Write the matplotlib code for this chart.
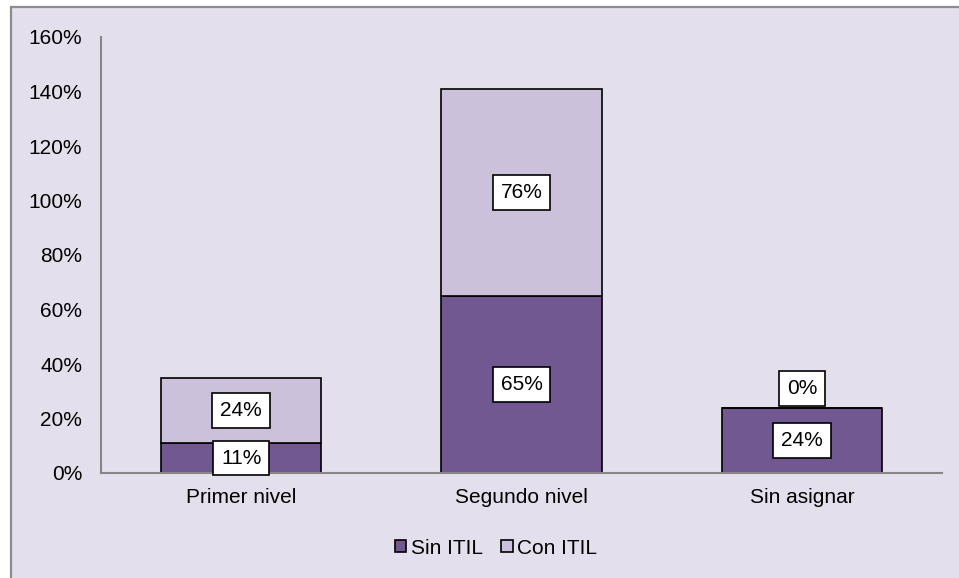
import matplotlib.pyplot as plt
import matplotlib.patches as mpatches
import numpy as np

categories = ['Primer nivel', 'Segundo nivel', 'Sin asignar']
sin_itil = [11, 65, 24]
con_itil = [24, 76, 0]
series_names = ['Sin ITIL', 'Con ITIL']
yticks = [0, 20, 40, 60, 80, 100, 120, 140, 160]

c_sin = '#715890'
c_con = '#CCC1DA'
bg = '#E4DFEC'
fs = 15

plt.rcParams['font.family'] = ['Liberation Sans', 'DejaVu Sans']

W, H = 959, 578
fig = plt.figure(figsize=(W / 100, H / 100), dpi=100)
fig.patch.set_facecolor('white')

# marco del area del grafico
frame = mpatches.Rectangle((11 / W, -0.02), 1.05, 1.02 - 7 / H, transform=fig.transFigure,
                           facecolor=bg, edgecolor='#8c8c8c', lw=1.6, zorder=-10)
fig.patches.append(frame)

ax = fig.add_axes([101 / W, 1 - 473 / H, (942 - 101) / W, (473 - 37) / H])
ax.set_zorder(1)
ax.patch.set_alpha(0)

x = np.arange(len(categories))
w = 0.571
ax.bar(x, sin_itil, w, color=c_sin, edgecolor='black', lw=1.2, label=series_names[0], zorder=2)
ax.bar(x, con_itil, w, bottom=sin_itil, color=c_con, edgecolor='black', lw=1.2,
       label=series_names[1], zorder=2)

box = dict(boxstyle='square,pad=0.38', facecolor='white', edgecolor='black', lw=1.2)
for i in range(len(categories)):
    ax.text(x[i], sin_itil[i] / 2, f'{sin_itil[i]}%', ha='center', va='center',
            fontsize=fs, bbox=box, zorder=4)
    if con_itil[i] > 0:
        ax.text(x[i], sin_itil[i] + con_itil[i] / 2, f'{con_itil[i]}%', ha='center',
                va='center', fontsize=fs, bbox=box, zorder=4)
    else:
        ax.annotate(f'{con_itil[i]}%', (x[i], sin_itil[i]), xytext=(0, 7),
                    textcoords='offset points', ha='center', va='bottom', fontsize=fs,
                    bbox=box, zorder=4)

ax.set_xlim(-0.5, 2.5)
ax.set_ylim(0, 160)
ax.set_yticks(yticks)
ax.set_yticklabels([f'{t}%' for t in yticks])
ax.set_xticks(x)
ax.set_xticklabels(categories)
ax.tick_params(axis='both', length=0, labelsize=fs, colors='black')
ax.tick_params(axis='y', pad=13.5)
ax.tick_params(axis='x', pad=11)
for s in ['top', 'right']:
    ax.spines[s].set_visible(False)
for s in ['left', 'bottom']:
    ax.spines[s].set_color('#868686')
    ax.spines[s].set_linewidth(1.5)

ax.legend(loc='center', bbox_to_anchor=(496 / W, 1 - 548 / H), bbox_transform=fig.transFigure,
          ncol=2, frameon=False, fontsize=fs, handlelength=0.55, handleheight=0.55,
          handletextpad=0.2, columnspacing=0.9)

fig.savefig('out.png', dpi=100, facecolor=fig.get_facecolor())
